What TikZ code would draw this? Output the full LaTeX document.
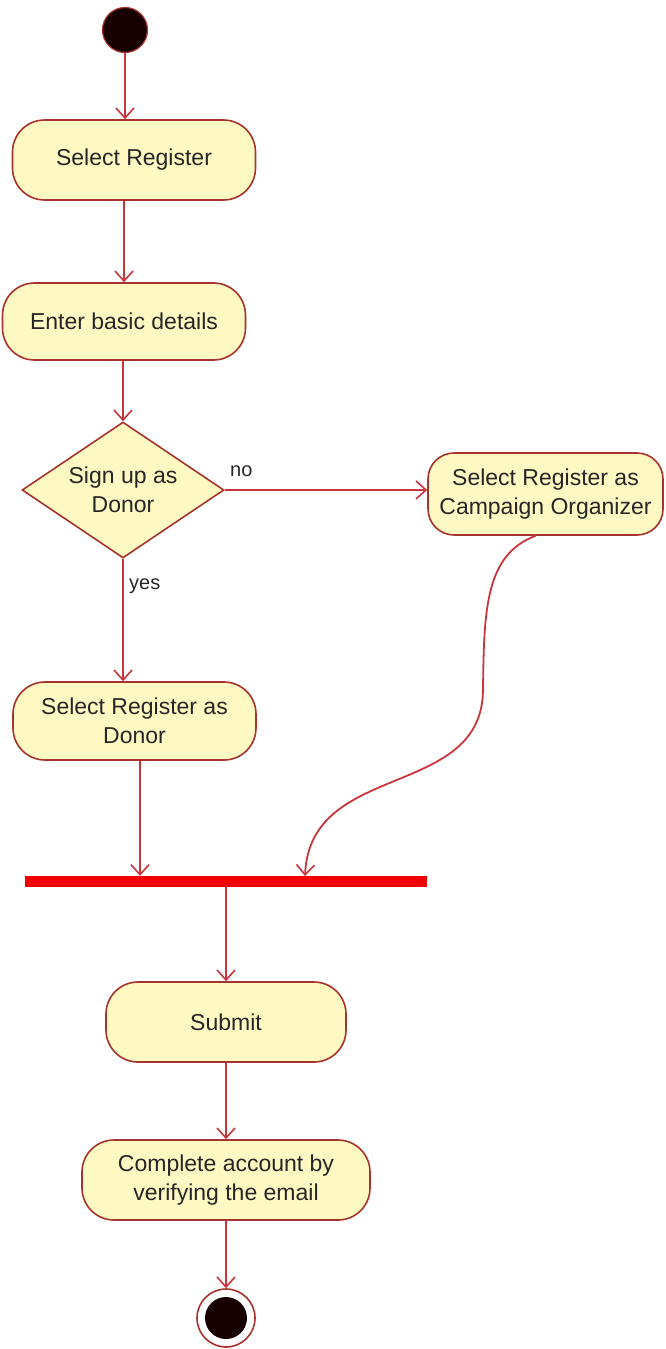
\documentclass[tikz,border=0pt]{standalone}
\usepackage{fontspec}
\setmainfont{Liberation Sans}
\usetikzlibrary{shapes.geometric,arrows.meta}
\definecolor{actfill}{HTML}{FEF9C2}
\definecolor{actedge}{HTML}{A8332C}
\definecolor{flowred}{HTML}{C8363C}
\definecolor{txt}{HTML}{262626}
\definecolor{barred}{HTML}{F20000}
\begin{document}
\begin{tikzpicture}[x=1pt,y=-1pt,
  activity/.style={draw=actedge, fill=actfill, line width=1.6pt, rounded corners=32pt,
    align=center, text=txt, font=\fontsize{23}{29}\selectfont, inner sep=0pt},
  decision/.style={draw=actedge, fill=actfill, line width=1.6pt, diamond, inner sep=0pt,
    aspect=1.49, minimum width=202pt, minimum height=136pt,
    align=center, text=txt, font=\fontsize{23}{29}\selectfont},
  flow/.style={draw=flowred, line width=1.8pt, -{Straight Barb[length=10pt,width=18pt,line width=1.6pt]}},
  guard/.style={text=txt, font=\fontsize{20}{22}\selectfont, inner sep=0pt}]
\useasboundingbox (0,0) rectangle (665,1349);

% initial node
\node[circle, fill=black!90!red, draw=actedge, line width=1.2pt, minimum size=45pt, inner sep=0pt] (start) at (125,30) {};

% activities
\node[activity, minimum width=243pt, minimum height=80pt] (sel) at (134,160) {Select Register};
\node[activity, minimum width=243pt, minimum height=77pt] (enter) at (124,321.5) {Enter basic details};
\node[decision] (dec) at (123,490) {Sign up as\\Donor};
\node[activity, rounded corners=26pt, minimum width=235pt, minimum height=82pt] (camp) at (545.5,494) {Select Register as\\Campaign Organizer};
\node[activity, minimum width=243pt, minimum height=78pt] (donor) at (134.5,721) {Select Register as\\Donor};

% join bar
\node[rectangle, fill=barred, minimum width=402pt, minimum height=11pt, inner sep=0pt] (bar) at (226,881.5) {};

\node[activity, minimum width=240pt, minimum height=80pt] (submit) at (226,1022) {Submit};
\node[activity, minimum width=288pt, minimum height=80pt] (done) at (226,1180) {Complete account by\\verifying the email};

% final node
\node[circle, fill=white, draw=actedge, line width=1.6pt, minimum size=58pt, inner sep=0pt] (end) at (226,1318) {};
\node[circle, fill=black!90!red, minimum size=42pt, inner sep=0pt] (endcore) at (end.center) {};

% transitions
\draw[flow] (start) -- (start |- sel.north);
\draw[flow] (enter.north |- sel.south) -- (enter.north);
\draw[flow] (dec.north |- enter.south) -- (dec.north);
\draw[flow] (dec.east) -- (dec.east -| camp.west);
\draw[flow] (dec.south) -- (dec.south |- donor.north);
\draw[flow] ([xshift=5.5pt]donor.south) -- ([xshift=5.5pt]donor.south |- bar.north);
\coordinate (joinR) at (305,876);
\draw[flow] ([xshift=-10pt]camp.south) .. controls (485,555) and (484,610) .. (483,690)
  .. controls (482,800) and (310,760) .. (joinR);
\draw[flow] (bar.south -| end.north) -- (end.north |- submit.north);
\draw[flow] (end.north |- submit.south) -- (end.north |- done.north);
\draw[flow] (end.north |- done.south) -- (end.north);

% guards
\node[guard, anchor=west] (gno) at (230,471) {no};
\node[guard, anchor=west] (gyes) at (129,586) {yes};
\end{tikzpicture}
\end{document}
